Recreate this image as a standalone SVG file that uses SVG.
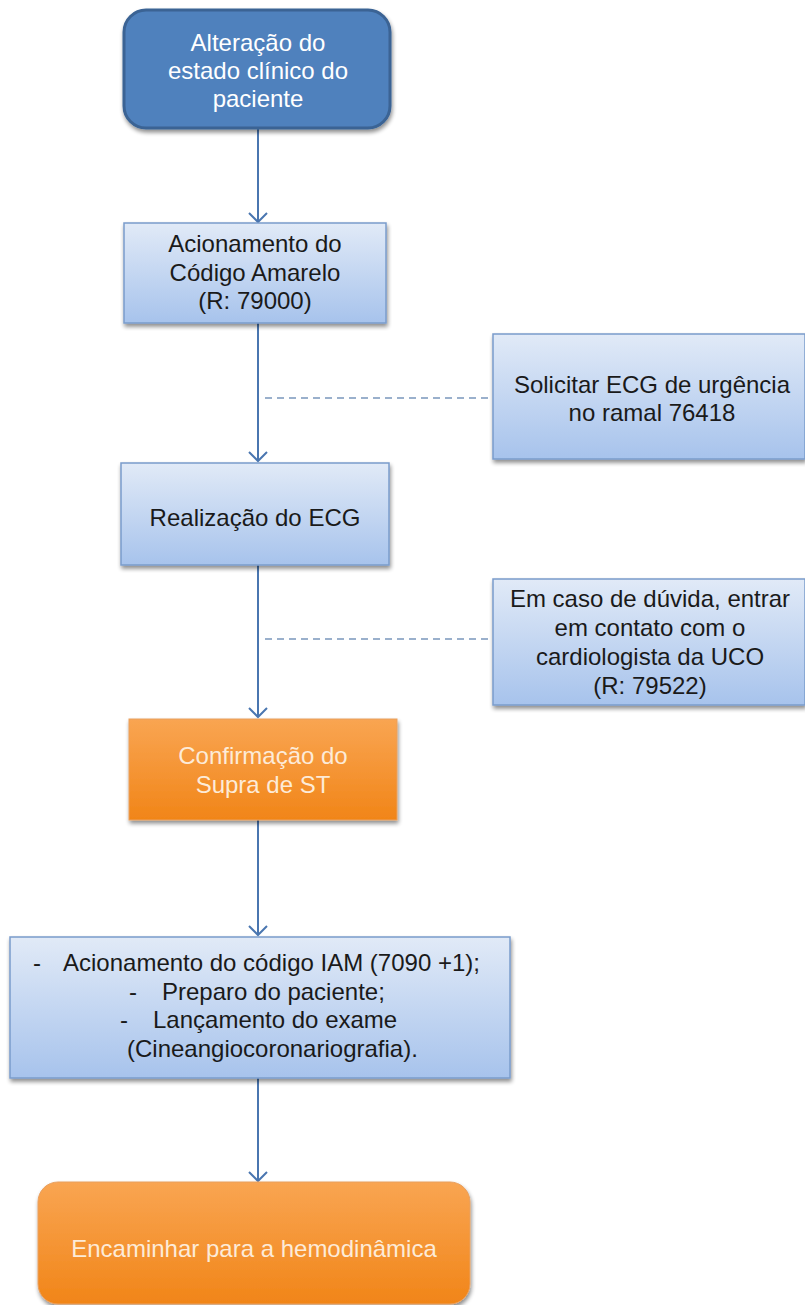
<svg xmlns="http://www.w3.org/2000/svg" width="805" height="1305" viewBox="0 0 805 1305">
<defs>
<linearGradient id="gBlue" x1="0" y1="0" x2="0" y2="1">
<stop offset="0" stop-color="#E1EAF7"/>
<stop offset="1" stop-color="#A7C3EC"/>
</linearGradient>
<linearGradient id="gOrange" x1="0" y1="0" x2="0" y2="1">
<stop offset="0" stop-color="#F9A552"/>
<stop offset="1" stop-color="#F18518"/>
</linearGradient>
<filter id="sh" x="-10%" y="-10%" width="120%" height="130%">
<feGaussianBlur in="SourceAlpha" stdDeviation="2"/>
<feOffset dx="1" dy="3" result="b"/>
<feComponentTransfer><feFuncA type="linear" slope="0.45"/></feComponentTransfer>
<feMerge><feMergeNode/><feMergeNode in="SourceGraphic"/></feMerge>
</filter>
<marker id="arr" markerWidth="20" markerHeight="20" refX="10" refY="10" orient="auto" markerUnits="userSpaceOnUse">
<path d="M1,1 L10,10 L1,19" fill="none" stroke="#4A76B0" stroke-width="2"/>
</marker>
</defs>
<style>
text{font-family:"Liberation Sans","DejaVu Sans",sans-serif;font-size:24px;text-anchor:middle}
.dark{fill:#1a1a1a}
.white{fill:#FFFFFF}
.cream{fill:#FDEBD8}
.st{text-anchor:start}
.lb{fill:url(#gBlue);stroke:#7A9CCB;stroke-width:1.5}
.or{fill:url(#gOrange);stroke:#E8A060;stroke-width:1}
.conn{stroke:#4A76B0;stroke-width:2;fill:none}
.dash{stroke:#7A97BC;stroke-width:1.5;stroke-dasharray:7,5;fill:none}
</style>
<rect width="805" height="1305" fill="#FFFFFF"/>
<g id="connectors">
<line class="conn" x1="258" y1="128" x2="258" y2="222" marker-end="url(#arr)"/>
<line class="conn" x1="258" y1="323" x2="258" y2="461" marker-end="url(#arr)"/>
<line class="conn" x1="258" y1="565" x2="258" y2="717" marker-end="url(#arr)"/>
<line class="conn" x1="258" y1="820" x2="258" y2="935" marker-end="url(#arr)"/>
<line class="conn" x1="258" y1="1078" x2="258" y2="1181" marker-end="url(#arr)"/>
<line class="dash" x1="265" y1="398" x2="493" y2="398"/>
<line class="dash" x1="265" y1="639" x2="493" y2="639"/>
</g>
<g id="n1">
<rect x="124" y="10" width="266" height="118" rx="22" fill="#4F81BD" stroke="#3A6394" stroke-width="3" filter="url(#sh)"/>
<text class="white" x="258" y="51">Alteração do</text>
<text class="white" x="258" y="79">estado clínico do</text>
<text class="white" x="258" y="107">paciente</text>
</g>
<g id="n2">
<rect class="lb" x="124" y="223" width="262" height="100" filter="url(#sh)"/>
<text class="dark" x="255" y="252">Acionamento do</text>
<text class="dark" x="255" y="281">Código Amarelo</text>
<text class="dark" x="255" y="309">(R: 79000)</text>
</g>
<g id="n_solicitar">
<rect class="lb" x="493" y="334" width="312" height="125" filter="url(#sh)"/>
<text class="dark" x="652" y="393">Solicitar ECG de urgência</text>
<text class="dark" x="652" y="421">no ramal 76418</text>
</g>
<g id="n3">
<rect class="lb" x="121" y="463" width="268" height="102" filter="url(#sh)"/>
<text class="dark" x="255" y="526">Realização do ECG</text>
</g>
<g id="n_duvida">
<rect class="lb" x="493" y="579" width="312" height="126" filter="url(#sh)"/>
<text class="dark" x="650" y="607">Em caso de dúvida, entrar</text>
<text class="dark" x="650" y="636">em contato com o</text>
<text class="dark" x="650" y="665">cardiologista da UCO</text>
<text class="dark" x="650" y="694">(R: 79522)</text>
</g>
<g id="n4">
<rect class="or" x="129" y="719" width="268" height="101" filter="url(#sh)"/>
<text class="cream" x="263" y="764">Confirmação do</text>
<text class="cream" x="263" y="793">Supra de ST</text>
</g>
<g id="n5">
<rect class="lb" x="10" y="937" width="500" height="141" filter="url(#sh)"/>
<text class="dark st" x="33" y="971">-</text>
<text class="dark st" x="63" y="971">Acionamento do código IAM (7090 +1);</text>
<text class="dark st" x="129" y="1000">-</text>
<text class="dark st" x="162" y="1000">Preparo do paciente;</text>
<text class="dark st" x="120" y="1028">-</text>
<text class="dark st" x="153" y="1028">Lançamento do exame</text>
<text class="dark st" x="127" y="1057">(Cineangiocoronariografia).</text>
</g>
<g id="n6">
<rect class="or" x="38" y="1182" width="432" height="122" rx="20" filter="url(#sh)"/>
<text class="cream" x="254" y="1257">Encaminhar para a hemodinâmica</text>
</g>
</svg>
